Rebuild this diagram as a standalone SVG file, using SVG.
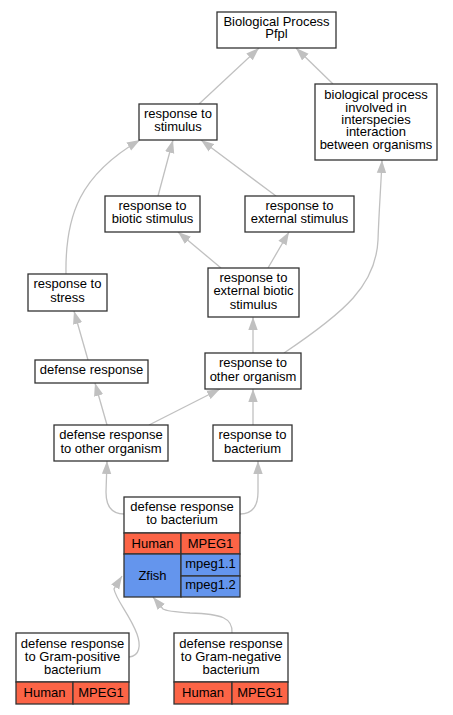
<svg xmlns="http://www.w3.org/2000/svg" width="453" height="715" viewBox="0 0 453 715">
<defs>
<style>
.n{fill:#fff;stroke:#333;stroke-width:1.3}
.r{fill:#fc6446;stroke:#333;stroke-width:1.3}
.b{fill:#6495ed;stroke:#333;stroke-width:1.3}
.e{fill:none;stroke:#c0c0c0;stroke-width:1.3;marker-end:url(#ah)}
text{font-family:"Liberation Sans",Arial,sans-serif;font-size:13px;fill:#000;text-anchor:middle}
</style>
<marker id="ah" viewBox="0 0 13 10" refX="13" refY="5" markerWidth="13" markerHeight="10" markerUnits="userSpaceOnUse" orient="auto">
<path d="M0,0.3 L13,5 L0,9.7 z" fill="#c0c0c0"/>
</marker>
</defs>
<rect width="453" height="715" fill="#fff"/>
<g id="edges">
<path class="e" d="M199,104 L259,48"/>
<path class="e" d="M333,84 L296,48"/>
<path class="e" d="M158,196 L173,140"/>
<path class="e" d="M276,196 L201,140"/>
<path class="e" d="M66,274 C65,215 80,175 140,140"/>
<path class="e" d="M221,268 L178,232"/>
<path class="e" d="M268,268 L289,232"/>
<path class="e" d="M284,353 C345,312 376,285 378,240 C379,210 381,185 382,160"/>
<path class="e" d="M253,353 L253,317"/>
<path class="e" d="M88,360 L74,311"/>
<path class="e" d="M107,425 L95,383"/>
<path class="e" d="M149,425 L220,389"/>
<path class="e" d="M253,425 L253,389"/>
<path class="e" d="M124,514 C112,514 106,506 106,492 L107,461"/>
<path class="e" d="M240,514 C252,514 258,506 258,492 L258,461"/>
<path class="e" d="M129,657 C140,656 141,645 137,634 C130,615 116,600 114,589 L122,576"/>
<path class="e" d="M232,633 C233,618 222,614 190,613 C175,612 166,611 163,609 L153,597"/>
</g>
<g id="bp">
<rect class="n" x="217" y="12" width="119" height="36"/>
<text x="276.5" y="26.3">Biological Process</text>
<text x="276.5" y="37.7">Pfpl</text>
</g>
<g id="stimulus">
<rect class="n" x="139" y="104" width="78" height="36"/>
<text x="178" y="118">response to</text>
<text x="178" y="131">stimulus</text>
</g>
<g id="interspecies">
<rect class="n" x="315" y="84" width="122" height="76"/>
<text x="376" y="99.3">biological process</text>
<text x="376" y="111.6">involved in</text>
<text x="376" y="123.9">interspecies</text>
<text x="376" y="136.2">interaction</text>
<text x="376" y="148.5">between organisms</text>
</g>
<g id="biotic">
<rect class="n" x="105" y="196" width="95" height="36"/>
<text x="152.5" y="210">response to</text>
<text x="152.5" y="223">biotic stimulus</text>
</g>
<g id="external">
<rect class="n" x="245" y="196" width="109" height="36"/>
<text x="299.5" y="210">response to</text>
<text x="299.5" y="223">external stimulus</text>
</g>
<g id="stress">
<rect class="n" x="28" y="274" width="79" height="37"/>
<text x="67.5" y="288">response to</text>
<text x="67.5" y="301.5">stress</text>
</g>
<g id="extbiotic">
<rect class="n" x="208" y="268" width="91" height="49"/>
<text x="253.5" y="282">response to</text>
<text x="253.5" y="295.3">external biotic</text>
<text x="253.5" y="308.6">stimulus</text>
</g>
<g id="defense">
<rect class="n" x="35" y="360" width="113" height="23"/>
<text x="91.5" y="374.3">defense response</text>
</g>
<g id="otherorg">
<rect class="n" x="205" y="353" width="96" height="36"/>
<text x="253" y="367.3">response to</text>
<text x="253" y="380.7">other organism</text>
</g>
<g id="defother">
<rect class="n" x="54" y="425" width="114" height="36"/>
<text x="111" y="438.8">defense response</text>
<text x="111" y="452.5">to other organism</text>
</g>
<g id="bacterium">
<rect class="n" x="213" y="425" width="79" height="36"/>
<text x="252.5" y="438.8">response to</text>
<text x="252.5" y="452.5">bacterium</text>
</g>
<g id="defbact">
<rect class="n" x="124" y="497" width="116" height="36"/>
<text x="182" y="510.5">defense response</text>
<text x="182" y="524">to bacterium</text>
<rect class="r" x="124" y="533" width="57" height="21"/>
<rect class="r" x="181" y="533" width="59" height="21"/>
<text x="152.5" y="547.5">Human</text>
<text x="210.5" y="547.5">MPEG1</text>
<rect class="b" x="124" y="554" width="57" height="43"/>
<rect class="b" x="181" y="554" width="59" height="22"/>
<rect class="b" x="181" y="576" width="59" height="21"/>
<text x="152.5" y="579.5">Zfish</text>
<text x="210.5" y="567.5">mpeg1.1</text>
<text x="210.5" y="589">mpeg1.2</text>
</g>
<g id="grampos">
<rect class="n" x="16" y="633" width="113" height="49"/>
<text x="72.5" y="647.7">defense response</text>
<text x="72.5" y="661">to Gram-positive</text>
<text x="72.5" y="674.4">bacterium</text>
<rect class="r" x="16" y="682" width="57" height="22"/>
<rect class="r" x="73" y="682" width="56" height="22"/>
<text x="44.5" y="696.5">Human</text>
<text x="101" y="696.5">MPEG1</text>
</g>
<g id="gramneg">
<rect class="n" x="174" y="633" width="114" height="49"/>
<text x="231" y="647.7">defense response</text>
<text x="231" y="661">to Gram-negative</text>
<text x="231" y="674.4">bacterium</text>
<rect class="r" x="174" y="682" width="58" height="22"/>
<rect class="r" x="232" y="682" width="56" height="22"/>
<text x="203" y="696.5">Human</text>
<text x="260" y="696.5">MPEG1</text>
</g>
</svg>
